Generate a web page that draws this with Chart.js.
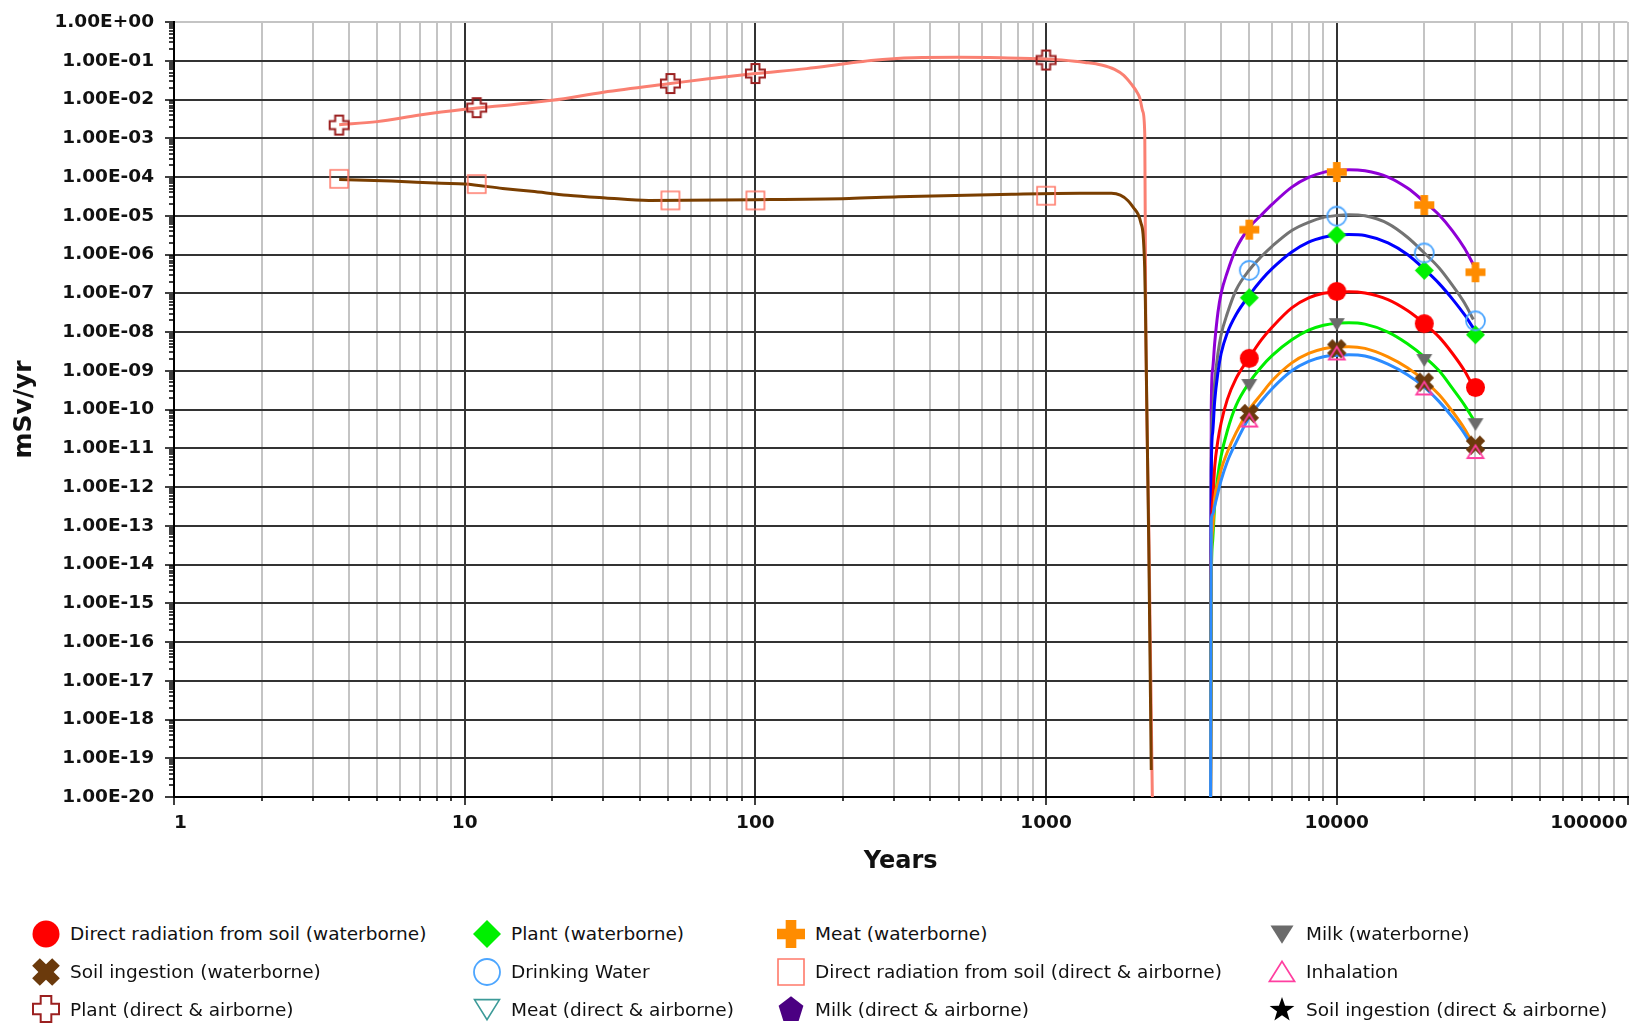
<!DOCTYPE html>
<html>
<head>
<meta charset="utf-8">
<title>Dose vs time</title>
<script src="https://cdn.jsdelivr.net/npm/chart.js@4.4.1/dist/chart.umd.min.js"></script>
<style>
  html, body { margin: 0; padding: 0; background: #fff; }
  #wrap { position: relative; width: 1639px; height: 1023px; overflow: hidden; }
  #chart { position: absolute; left: 0; top: 0; }
  #legend {
    position: absolute; left: 30px; top: 915px;
    display: grid; grid-template-columns: 441px 304px 491px auto; grid-auto-rows: 37.7px;
    font-family: "DejaVu Sans", sans-serif; font-size: 18.5px; color: #111;
  }
  .item { display: flex; align-items: center; white-space: nowrap; }
  .item canvas { width: 32px; height: 32px; margin-right: 8px; flex: none; }
</style>
</head>
<body>
<div id="wrap">
  <canvas id="chart" width="1639" height="885"></canvas>
  <div id="legend"></div>
</div>
<script>
// axes
const xMajorTicks = [1, 10, 100, 1000, 10000, 100000];
const xTickLabels = ['1', '10', '100', '1000', '10000', '100000'];
const minorSteps = [2, 3, 4, 5, 6, 7, 8, 9];
const yTicks = [1, 1e-1, 1e-2, 1e-3, 1e-4, 1e-5, 1e-6, 1e-7, 1e-8, 1e-9, 1e-10,
  1e-11, 1e-12, 1e-13, 1e-14, 1e-15, 1e-16, 1e-17, 1e-18, 1e-19, 1e-20];
const yTickLabels = ['1.00E+00', '1.00E-01', '1.00E-02', '1.00E-03', '1.00E-04', '1.00E-05',
  '1.00E-06', '1.00E-07', '1.00E-08', '1.00E-09', '1.00E-10', '1.00E-11', '1.00E-12',
  '1.00E-13', '1.00E-14', '1.00E-15', '1.00E-16', '1.00E-17', '1.00E-18', '1.00E-19', '1.00E-20'];

// series names (legend order)
const seriesLabels = [
  'Direct radiation from soil (waterborne)', 'Plant (waterborne)', 'Meat (waterborne)', 'Milk (waterborne)',
  'Soil ingestion (waterborne)', 'Drinking Water', 'Direct radiation from soil (direct & airborne)', 'Inhalation',
  'Plant (direct & airborne)', 'Meat (direct & airborne)', 'Milk (direct & airborne)', 'Soil ingestion (direct & airborne)'
];

// waterborne curves (mSv/yr), all on one time grid
const waterYears = [3677, 3700, 3740, 3800, 3900, 4000, 4200, 4500, 5000, 5500, 6000, 7000,
  8000, 9000, 10000, 11000, 12500, 15000, 17500, 20000, 22500, 25000, 27500, 29500];
const meatWaterLine = [1e-21, 1.2e-10, 1.1e-9, 5.0e-9, 3.2e-8, 1.0e-7, 3.5e-7, 1.4e-6, 5.0e-6, 1.05e-5, 2.0e-5, 5.5e-5,
  9.8e-5, 1.32e-4, 1.48e-4, 1.55e-4, 1.45e-4, 1.0e-4, 5.2e-5, 2.3e-5, 1.05e-5, 4.1e-6, 1.45e-6, 5.5e-7];
const drinkWaterLine = [1e-21, 8e-12, 8e-11, 5e-10, 2.8e-9, 8.5e-9, 3.0e-8, 1.2e-7, 4.0e-7, 8.9e-7, 1.66e-6, 4.2e-6,
  6.8e-6, 9.1e-6, 1.02e-5, 1.07e-5, 1.0e-5, 6.3e-6, 2.8e-6, 1.1e-6, 4.5e-7, 1.6e-7, 5.6e-8, 2.1e-8];
const plantWaterLine = [1e-21, 2.5e-12, 2.5e-11, 1.6e-10, 9e-10, 2.8e-9, 9.5e-9, 2.8e-8, 8.9e-8, 2.2e-7, 4.4e-7, 1.17e-6,
  2.1e-6, 2.8e-6, 3.2e-6, 3.3e-6, 3.1e-6, 2.0e-6, 1.0e-6, 4.2e-7, 1.78e-7, 7.1e-8, 2.8e-8, 1.26e-8];
const dirRadWaterLine = [1e-21, 3.2e-14, 4e-13, 3.2e-12, 1.6e-11, 4.5e-11, 1.8e-10, 6.3e-10, 2.2e-9, 6.3e-9, 1.35e-8, 4.2e-8,
  7.6e-8, 1.0e-7, 1.07e-7, 1.1e-7, 1.02e-7, 6.9e-8, 3.6e-8, 1.66e-8, 7.4e-9, 2.8e-9, 1.0e-9, 3.8e-10];
const milkWaterLine = [1e-21, 3.2e-15, 4e-14, 3.2e-13, 2e-12, 6.3e-12, 2.8e-11, 1.26e-10, 5.0e-10, 1.26e-9, 2.5e-9, 6.3e-9,
  1.12e-8, 1.5e-8, 1.7e-8, 1.74e-8, 1.6e-8, 1.0e-8, 5.0e-9, 2.3e-9, 1.0e-9, 3.5e-10, 1.3e-10, 5.6e-11];
const soilWaterLine = [1e-21, 1e-14, 8e-14, 5e-13, 1.26e-12, 2.8e-12, 7.9e-12, 2.5e-11, 1.0e-10, 2.5e-10, 5.6e-10, 1.6e-9,
  2.8e-9, 3.7e-9, 4.1e-9, 4.2e-9, 3.8e-9, 2.3e-9, 1.2e-9, 5.6e-10, 2.4e-10, 8.9e-11, 3.2e-11, 1.26e-11];
const inhalLine = [1e-21, 1.4e-13, 2e-13, 3.2e-13, 7.1e-13, 1.48e-12, 4.5e-12, 1.4e-11, 6.3e-11, 1.66e-10, 3.5e-10, 1.0e-9,
  1.74e-9, 2.3e-9, 2.5e-9, 2.6e-9, 2.4e-9, 1.48e-9, 7.9e-10, 3.8e-10, 1.6e-10, 6.3e-11, 2.4e-11, 1.0e-11];

// waterborne markers
const waterMarkYears = [5000, 10000, 20000, 30000];
const dirRadWaterMarks = [2.1e-9, 1.12e-7, 1.65e-8, 3.7e-10];
const plantWaterMarks = [7.7e-8, 3.2e-6, 3.9e-7, 8.5e-9];
const meatWaterMarks = [4.4e-6, 1.35e-4, 1.9e-5, 3.5e-7];
const milkWaterMarks = [4.3e-10, 1.6e-8, 1.9e-9, 4.2e-11];
const soilWaterMarks = [7.9e-11, 3.7e-9, 5.1e-10, 1.2e-11];
const drinkWaterMarks = [3.9e-7, 9.8e-6, 1.1e-6, 1.95e-8];
const inhalMarks = [5.2e-11, 2.8e-9, 3.5e-10, 8e-12];

// direct & airborne curves
const plantAirYears = [3.7, 5, 7, 10, 15, 20, 30, 51, 70, 100, 150, 200, 250, 350, 500, 700, 1000, 1130,
  1360, 1550, 1720, 1850, 1965, 2050, 2100, 2150, 2185, 2200, 2260, 2320, 2340];
const plantAirLine = [2.24e-3, 2.7e-3, 4.0e-3, 5.6e-3, 7.6e-3, 9.6e-3, 1.55e-2, 2.6e-2, 3.5e-2, 4.7e-2, 6.3e-2, 8.3e-2,
  0.102, 0.12, 0.123, 0.12, 0.112, 0.105, 0.091, 0.078, 0.060, 0.042, 0.025, 0.016, 0.011, 5e-3, 1.26e-3,
  6.3e-8, 3.2e-14, 1e-20, 1e-22];
const dirRadAirYears = [3.7, 5.6, 8.3, 10, 13.5, 17, 22.6, 30.5, 43, 100, 210, 311, 762, 1306, 1678, 1800,
  1914, 2000, 2071, 2120, 2155, 2183, 2195, 2255, 2300];
const dirRadAirLine = [8.7e-5, 7.9e-5, 6.9e-5, 6.6e-5, 5.1e-5, 4.3e-5, 3.4e-5, 2.9e-5, 2.5e-5, 2.6e-5, 2.8e-5, 3.1e-5,
  3.6e-5, 3.8e-5, 3.8e-5, 3.4e-5, 2.45e-5, 1.6e-5, 1.1e-5, 6.5e-6, 3.4e-6, 4.7e-7, 6.3e-8, 3.2e-14, 5e-20];

const airMarkYears = [3.7, 11, 51, 100, 1000];
const plantAirMarks = [2.2e-3, 6.2e-3, 2.6e-2, 4.7e-2, 0.105];
const dirRadAirMarks = [9.0e-5, 6.6e-5, 2.5e-5, 2.5e-5, 3.3e-5];

// styles, same order as seriesLabels
const markerStyles = [
  { shape: 'circle', fill: '#ff0000', size: 19, legend: 27 },
  { shape: 'diamond', fill: '#00f000', size: 19, legend: 28 },
  { shape: 'plus', fill: '#ff8c00', size: 20, legend: 28 },
  { shape: 'triDown', fill: '#6b6b6b', size: 16, legend: 23 },
  { shape: 'xcross', fill: '#6b3a0c', size: 19, legend: 27 },
  { shape: 'circle', stroke: '#4da6ff', lw: 1.8, size: 21, legend: 28 },
  { shape: 'square', stroke: '#ff7a6a', lw: 1.6, size: 20, legend: 28 },
  { shape: 'triUp', stroke: '#ff3fa0', lw: 1.8, size: 16, legend: 25 },
  { shape: 'plus', stroke: '#9b2020', lw: 2, size: 21, legend: 28 },
  { shape: 'triDown', stroke: '#3c9a98', lw: 1.6, size: 16, legend: 25 },
  { shape: 'pentagon', fill: '#4b0082', size: 24, legend: 26 },
  { shape: 'star', fill: '#000000', size: 24, legend: 26 }
];
const lineColors = ['#ff0000', '#0000ff', '#8f00d6', '#00ee00', '#ff8c00', '#737373', '#7a3e00', '#2c8cff', '#fa8072'];

function drawGlyph(ctx, g, cx, cy, s) {
  const h = s / 2;
  ctx.beginPath();
  if (g.shape === 'circle') {
    ctx.arc(cx, cy, g.stroke ? h - 1 : h, 0, Math.PI * 2);
  } else if (g.shape === 'diamond') {
    ctx.moveTo(cx, cy - h); ctx.lineTo(cx + h, cy); ctx.lineTo(cx, cy + h); ctx.lineTo(cx - h, cy);
    ctx.closePath();
  } else if (g.shape === 'square') {
    ctx.rect(cx - h + 1, cy - h + 1, s - 2, s - 2);
  } else if (g.shape === 'triUp') {
    ctx.moveTo(cx, cy - h * 0.85); ctx.lineTo(cx + h, cy + h * 0.75); ctx.lineTo(cx - h, cy + h * 0.75);
    ctx.closePath();
  } else if (g.shape === 'triDown') {
    ctx.moveTo(cx - h, cy - h * 0.75); ctx.lineTo(cx + h, cy - h * 0.75); ctx.lineTo(cx, cy + h * 0.85);
    ctx.closePath();
  } else if (g.shape === 'plus' || g.shape === 'xcross') {
    const rot = g.shape === 'xcross' ? Math.PI / 4 : 0;
    const r = g.shape === 'xcross' ? h * 1.05 : h - (g.stroke ? 1 : 0);
    const a = s * (g.shape === 'xcross' ? 0.2 : 0.19);
    const pts = [[-a, -r], [a, -r], [a, -a], [r, -a], [r, a], [a, a], [a, r], [-a, r], [-a, a], [-r, a], [-r, -a], [-a, -a]];
    pts.forEach(([px, py], i) => {
      const qx = cx + px * Math.cos(rot) - py * Math.sin(rot);
      const qy = cy + px * Math.sin(rot) + py * Math.cos(rot);
      if (i === 0) ctx.moveTo(qx, qy); else ctx.lineTo(qx, qy);
    });
    ctx.closePath();
  } else if (g.shape === 'pentagon') {
    for (let k = 0; k < 5; k++) {
      const ang = -Math.PI / 2 + k * 2 * Math.PI / 5;
      ctx.lineTo(cx + h * Math.cos(ang), cy + h * 1.05 * Math.sin(ang) + 1);
    }
    ctx.closePath();
  } else if (g.shape === 'star') {
    for (let k = 0; k < 10; k++) {
      const ang = -Math.PI / 2 + k * Math.PI / 5;
      const rr = k % 2 === 0 ? h : h * 0.4;
      ctx.lineTo(cx + rr * Math.cos(ang), cy + rr * Math.sin(ang) + 1);
    }
    ctx.closePath();
  }
  if (g.fill) { ctx.fillStyle = g.fill; ctx.fill(); }
  if (g.stroke) { ctx.strokeStyle = g.stroke; ctx.lineWidth = g.lw || 2; ctx.stroke(); }
}

function makeGlyph(g) {
  const c = document.createElement('canvas');
  c.width = c.height = Math.ceil(g.size + 6);
  drawGlyph(c.getContext('2d'), g, c.width / 2, c.height / 2, g.size);
  return c;
}

const pts = (xs, ys) => xs.map((x, i) => ({ x: x, y: ys[i] }));

// marker sets, first one drawn on top
const markSets = [
  [7, waterMarkYears, inhalMarks],
  [5, waterMarkYears, drinkWaterMarks],
  [4, waterMarkYears, soilWaterMarks],
  [3, waterMarkYears, milkWaterMarks],
  [1, waterMarkYears, plantWaterMarks],
  [0, waterMarkYears, dirRadWaterMarks],
  [2, waterMarkYears, meatWaterMarks],
  [6, airMarkYears, dirRadAirMarks],
  [8, airMarkYears, plantAirMarks]
];
const lineSets = [
  [7, waterYears, inhalLine],
  [4, waterYears, soilWaterLine],
  [3, waterYears, milkWaterLine],
  [0, waterYears, dirRadWaterLine],
  [1, waterYears, plantWaterLine],
  [5, waterYears, drinkWaterLine],
  [2, waterYears, meatWaterLine],
  [6, dirRadAirYears, dirRadAirLine],
  [8, plantAirYears, plantAirLine]
];

const datasets = [];
markSets.forEach(([s, xs, ys]) => {
  const g = markerStyles[s];
  datasets.push({
    label: seriesLabels[s],
    data: pts(xs, ys),
    showLine: false,
    pointStyle: makeGlyph(g),
    pointRadius: g.size / 2,
    pointHoverRadius: g.size / 2
  });
});
lineSets.forEach(([s, xs, ys]) => {
  datasets.push({
    label: seriesLabels[s],
    data: pts(xs, ys),
    showLine: true,
    borderColor: lineColors[s],
    borderWidth: 3,
    pointRadius: 0,
    pointHitRadius: 0,
    cubicInterpolationMode: 'monotone'
  });
});

const FONT = 'DejaVu Sans';
const frameGray = '#c4c4c4';
const isMajorX = v => xMajorTicks.indexOf(v) >= 0;

// small tick marks between the decades
const minorTicks = {
  id: 'minorTicks',
  afterDraw(chart) {
    const { ctx, chartArea } = chart;
    const x = chart.scales.x, y = chart.scales.y;
    ctx.save();
    ctx.strokeStyle = '#000';
    ctx.lineWidth = 1.5;
    ctx.beginPath();
    for (let d = 0; d < xMajorTicks.length - 1; d++) {
      minorSteps.forEach(m => {
        const px = Math.round(x.getPixelForValue(xMajorTicks[d] * m));
        ctx.moveTo(px, chartArea.bottom);
        ctx.lineTo(px, chartArea.bottom + 4);
      });
    }
    for (let d = 1; d < yTicks.length; d++) {
      minorSteps.forEach(m => {
        const py = Math.round(y.getPixelForValue(yTicks[d] * m));
        ctx.moveTo(chartArea.left - 5, py);
        ctx.lineTo(chartArea.left, py);
      });
    }
    ctx.stroke();
    ctx.restore();
  }
};

const myChart = new Chart(document.getElementById('chart'), {
  type: 'scatter',
  data: { datasets: datasets },
  options: {
    responsive: false,
    animation: false,
    devicePixelRatio: 1,
    events: [],
    layout: { padding: { top: 21, right: 10, bottom: 0, left: 0 } },
    plugins: { legend: { display: false }, tooltip: { enabled: false } },
    scales: {
      x: {
        type: 'logarithmic',
        position: 'bottom',
        min: 1,
        max: 100000,
        afterBuildTicks: function (scale) {
          const vals = [];
          xMajorTicks.forEach((v, i) => {
            vals.push(v);
            if (i < xMajorTicks.length - 1) minorSteps.forEach(m => vals.push(v * m));
          });
          scale.ticks = vals.map(v => ({ value: v }));
        },
        afterFit: function (scale) { scale.height = 88; },
        ticks: {
          autoSkip: false, maxRotation: 0, minRotation: 0, align: 'inner', padding: 7,
          color: '#111', font: { family: FONT, size: 18.5, weight: 'bold' },
          callback: function (value) {
            const i = xMajorTicks.indexOf(value);
            return i >= 0 ? xTickLabels[i] : '';
          }
        },
        grid: {
          color: c => c.tick.value === 100000 ? frameGray : (isMajorX(c.tick.value) ? '#333' : '#c4c4c4'),
          lineWidth: 2,
          tickColor: c => isMajorX(c.tick.value) ? '#000' : 'rgba(0,0,0,0)',
          tickLength: 8,
          tickWidth: 1.5
        },
        border: { display: true, color: '#000', width: 2 },
        title: {
          display: true, text: 'Years', color: '#111',
          font: { family: FONT, size: 24, weight: 'bold' },
          padding: { top: 0, bottom: 9 }
        }
      },
      y: {
        type: 'logarithmic',
        position: 'left',
        min: 1e-20,
        max: 1,
        afterBuildTicks: function (scale) {
          scale.ticks = yTicks.slice().reverse().map(v => ({ value: v }));
        },
        afterFit: function (scale) { scale.width = 174; },
        ticks: {
          autoSkip: false, padding: 11,
          color: '#111', font: { family: FONT, size: 18.5, weight: 'bold' },
          callback: function (value) {
            const i = yTicks.indexOf(value);
            return i >= 0 ? yTickLabels[i] : '';
          }
        },
        grid: {
          color: c => c.tick.value === 1 ? frameGray : '#333',
          lineWidth: 2,
          tickColor: '#000',
          tickLength: 9,
          tickWidth: 1.5
        },
        border: { display: true, color: '#000', width: 2 },
        title: {
          display: true, text: 'mSv/yr', color: '#111',
          font: { family: FONT, size: 25, weight: 'bold' },
          padding: { top: 9, bottom: 0 }
        }
      }
    }
  },
  plugins: [minorTicks]
});

// legend below the plot, four columns like the original
const legendEl = document.getElementById('legend');
seriesLabels.forEach((label, i) => {
  const item = document.createElement('div');
  item.className = 'item';
  const icon = document.createElement('canvas');
  icon.width = 32; icon.height = 32;
  drawGlyph(icon.getContext('2d'), markerStyles[i], 16, 16, markerStyles[i].legend);
  const text = document.createElement('span');
  text.textContent = label;
  item.append(icon, text);
  legendEl.append(item);
});
</script>
</body>
</html>
